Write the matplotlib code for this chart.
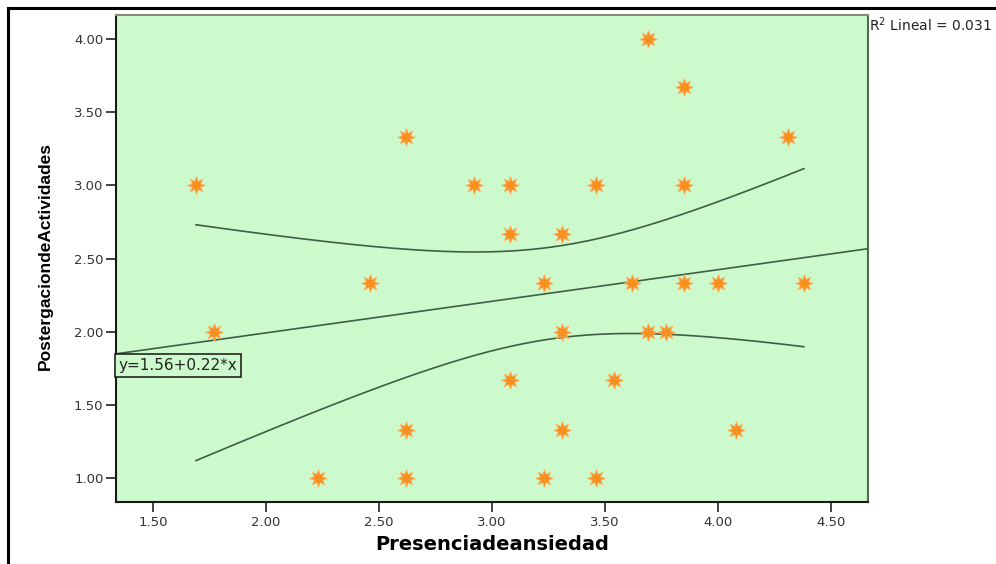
import numpy as np
import matplotlib
matplotlib.use("Agg")
import matplotlib.pyplot as plt
from matplotlib.lines import Line2D

# ---- data ----
presencia = [1.69, 1.77, 2.23, 2.46, 2.62, 2.62, 2.62, 2.92, 3.08, 3.08,
             3.08, 3.23, 3.23, 3.31, 3.31, 3.31, 3.46, 3.46, 3.54, 3.62,
             3.69, 3.69, 3.77, 3.85, 3.85, 3.85, 4.00, 4.08, 4.31, 4.38]
postergacion = [3.00, 2.00, 1.00, 2.33, 3.33, 1.33, 1.00, 3.00, 3.00, 2.67,
                1.67, 2.33, 1.00, 2.67, 2.00, 1.33, 3.00, 1.00, 1.67, 2.33,
                4.00, 2.00, 2.00, 3.67, 3.00, 2.33, 2.33, 1.33, 3.33, 2.33]
x_ticks = [1.50, 2.00, 2.50, 3.00, 3.50, 4.00, 4.50]
y_ticks = [1.00, 1.50, 2.00, 2.50, 3.00, 3.50, 4.00]
x_label = "Presenciadeansiedad"
y_label = "PostergaciondeActividades"
r2_text = "R$^2$ Lineal = 0.031"
eq_text = "y=1.56+0.22*x"
T_CRIT = 2.048  # t(0.975, df=28)

x = np.array(presencia)
y = np.array(postergacion)
n = len(x)
slope, intercept = np.polyfit(x, y, 1)
resid = y - (intercept + slope * x)
s = np.sqrt(np.sum(resid ** 2) / (n - 2))
sxx = np.sum((x - x.mean()) ** 2)

GREEN = "#CCFACC"
LINE = "#3F5F44"
ORANGE = "#F7901E"

fig = plt.figure(figsize=(9.96, 5.64), dpi=100)
ax = fig.add_axes([116 / 996, 1 - 502 / 564, 752 / 996, 487 / 564])
ax.set_facecolor(GREEN)
XMIN, XMAX = 1.336, 4.664
ax.set_xlim(XMIN, XMAX)
ax.set_ylim(0.836, 4.164)

# regression line over full axis range
xl = np.linspace(XMIN, XMAX, 200)
ax.plot(xl, intercept + slope * xl, color=LINE, lw=1.2, zorder=2)

# 95% CI for mean
xc = np.linspace(x.min(), x.max(), 200)
half = T_CRIT * s * np.sqrt(1 / n + (xc - x.mean()) ** 2 / sxx)
yc = intercept + slope * xc
ax.plot(xc, yc + half, color=LINE, lw=1.2, zorder=2)
ax.plot(xc, yc - half, color=LINE, lw=1.2, zorder=2)

ax.scatter(x, y, marker=(8, 1, 0), s=160, color=ORANGE, edgecolors="#FFB060",
           linewidths=0.6, zorder=3)

ax.set_xticks(x_ticks)
ax.set_xticklabels([f"{v:.2f}" for v in x_ticks])
ax.set_yticks(y_ticks)
ax.set_yticklabels([f"{v:.2f}" for v in y_ticks])
ax.tick_params(axis="both", direction="out", length=7, width=1.2, color="#222222",
               labelsize=9.5, labelcolor="#333333")
ax.tick_params(axis="y", pad=2)
ax.tick_params(axis="x", pad=3)
for side in ["left", "bottom"]:
    ax.spines[side].set_color("#1a1a1a")
    ax.spines[side].set_linewidth(1.5)
ax.spines["right"].set_color("#556655")
ax.spines["right"].set_linewidth(1.5)
ax.spines["top"].set_color("#8A8A7A")
ax.spines["top"].set_linewidth(1.5)

ax.text(XMIN + 0.012, 1.77, eq_text, fontsize=11, color="#222222",
        va="center", ha="left", family="DejaVu Sans",
        bbox=dict(boxstyle="square,pad=0.25", facecolor=GREEN, edgecolor="#222222", lw=1.2),
        zorder=4)

fig.text(869 / 996, 1 - 25 / 564, r2_text, fontsize=10, color="#222222",
         ha="left", va="center", family="DejaVu Sans")

fig.text(45 / 996, 1 - 256 / 564, y_label, rotation=90, ha="center", va="center",
         fontsize=12.5, fontweight="bold", family=["Liberation Sans Narrow", "Liberation Sans"])
fig.text(492 / 996, 1 - 545 / 564, x_label, ha="center", va="center",
         fontsize=14, fontweight="bold", family="DejaVu Sans")

# outer frame (top and left visible in the crop)
fig.add_artist(Line2D([8 / 996, 1.0], [1 - 8 / 564, 1 - 8 / 564], color="black", lw=2.2,
                      transform=fig.transFigure))
fig.add_artist(Line2D([8 / 996, 8 / 996], [0.0, 1 - 8 / 564], color="black", lw=2.2,
                      transform=fig.transFigure))

fig.savefig("out.png", dpi=100)
